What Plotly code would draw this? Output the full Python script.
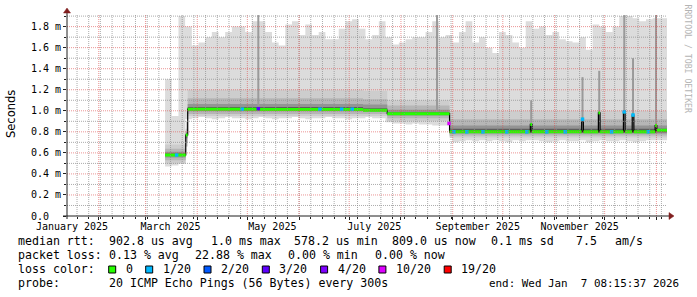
import pandas as pd
import plotly.graph_objects as go

# ---------------- data ----------------
x_start = "2025-01-13 00:00:00"
x_end = "2026-01-07 08:15:37"

# smoke envelope, 4-day buckets starting at bucket_start (values in ms)
bucket_start = "2025-03-12 18:00:00"
bucket_step = "4D"
smoke_max = [1.30, 0.95, 1.90, 1.80, 1.62, 1.65, 1.70, 1.75, 1.70, 1.75,
             1.80, 1.80, 1.75, 1.85, 1.85, 1.75, 1.65, 1.62, 1.82, 1.85,
             1.72, 1.82, 1.72, 1.75, 1.68, 1.68, 1.78, 1.85, 1.87, 1.78,
             1.68, 1.72, 1.85, 1.70, 1.63, 1.65, 1.68, 1.70, 1.70, 1.75,
             1.85, 1.70, 1.72, 1.65, 1.75, 1.85, 1.65, 1.70, 1.60, 1.55,
             1.75, 1.72, 1.65, 1.60, 1.85, 1.78, 1.80, 1.72, 1.75, 1.68,
             1.66, 1.65, 1.70, 1.58, 1.82, 1.80, 1.75, 1.80, 1.90, 1.90,
             1.88, 1.85, 1.87, 1.88, 1.88]
smoke_min = [0.47, 0.48, 0.50, 0.92, 0.93, 0.94, 0.93, 0.92, 0.93, 0.94,
             0.93, 0.93, 0.92, 0.93, 0.94, 0.93, 0.92, 0.93, 0.93, 0.94,
             0.93, 0.92, 0.93, 0.93, 0.94, 0.93, 0.93, 0.92, 0.93, 0.93,
             0.94, 0.93, 0.93, 0.89, 0.88, 0.88, 0.87, 0.88, 0.87, 0.87,
             0.86, 0.86, 0.86, 0.70, 0.71, 0.72, 0.71, 0.72, 0.71, 0.72,
             0.71, 0.70, 0.72, 0.71, 0.72, 0.72, 0.71, 0.70, 0.71, 0.72,
             0.71, 0.71, 0.72, 0.70, 0.71, 0.72, 0.71, 0.71, 0.72, 0.71,
             0.70, 0.71, 0.72, 0.72, 0.72]

# inner smoke bands (regime steps)
band_dates = ["2025-03-12 18:00", "2025-03-25 03:00", "2025-03-26 07:00",
              "2025-07-09 07:00", "2025-07-23 19:00", "2025-08-30 03:00"]
band1_lo = [0.50, 0.66, 0.95, 0.95, 0.90, 0.745]
band1_hi = [0.68, 0.90, 1.20, 1.19, 1.10, 1.00]
band2_lo = [0.53, 0.70, 0.97, 0.97, 0.93, 0.765]
band2_hi = [0.64, 0.83, 1.12, 1.11, 1.05, 0.92]
band3_lo = [0.555, 0.74, 0.995, 0.99, 0.955, 0.785]
band3_hi = [0.61, 0.80, 1.065, 1.06, 1.01, 0.86]
band4_lo = [0.57, 0.76, 1.005, 0.998, 0.963, 0.795]
band4_hi = [0.595, 0.785, 1.035, 1.025, 0.985, 0.83]

# short smoke spikes
spike_dates = ["2025-05-07 14:00", "2025-08-22 14:00", "2025-10-18 00:00",
               "2025-11-17 18:00", "2025-11-27 18:00", "2025-12-12 18:00",
               "2025-12-18 00:00", "2025-12-31 18:00"]
spike_low = [1.03, 0.99, 0.82, 0.82, 0.82, 0.82, 0.82, 0.83]
spike_high = [1.91, 1.91, 1.10, 1.32, 1.38, 1.91, 1.50, 1.91]

# median rtt (step segments, ms)
med_dates = ["2025-03-12 17:00", "2025-03-25 03:00", "2025-03-26 07:00",
             "2025-05-07 00:00", "2025-05-08 05:00", "2025-07-09 07:00",
             "2025-07-23 19:00", "2025-08-30 03:00", "2025-10-17 12:00",
             "2025-10-18 12:00", "2025-11-17 06:00", "2025-11-18 06:00",
             "2025-11-27 06:00", "2025-11-28 06:00", "2025-12-12 06:00",
             "2025-12-13 06:00", "2025-12-17 12:00", "2025-12-18 12:00",
             "2025-12-31 06:00", "2026-01-01 06:00"]
med_vals = [0.58, 0.77, 1.015, 1.02, 1.012, 1.005, 0.973, 0.80, 0.87, 0.80,
            0.92, 0.80, 0.98, 0.80, 0.99, 0.80, 0.96, 0.80, 0.86, 0.815]

# loss events on the median (pings lost out of 20)
loss_dates = ["2025-03-19 16:00", "2025-04-28 00:00", "2025-05-07 14:00",
              "2025-06-13 12:00", "2025-06-26 12:00", "2025-07-02 20:00",
              "2025-08-29 20:00", "2025-09-01 18:00", "2025-09-09 10:00",
              "2025-09-19 02:00", "2025-10-03 08:00", "2025-10-15 08:00",
              "2025-10-27 08:00", "2025-11-07 08:00", "2025-11-17 18:00",
              "2025-12-05 04:00", "2025-12-12 18:00", "2025-12-18 00:00",
              "2025-12-27 04:00"]
loss_vals = [0.58, 1.015, 1.02, 1.015, 1.015, 1.015, 0.88, 0.80, 0.80, 0.80,
             0.80, 0.80, 0.80, 0.80, 0.92, 0.80, 0.99, 0.96, 0.80]
loss_counts = [1, 1, 3, 1, 1, 1, 10, 1, 1, 1, 1, 1, 1, 1, 1, 1, 1, 1, 1]

loss_labels = ["0", "1/20", "2/20", "3/20", "4/20", "10/20", "19/20"]
loss_levels = [0, 1, 2, 3, 4, 10, 19]
loss_colors = ["#26ff00", "#00b8ff", "#0059ff", "#5e00ff", "#7e00ff", "#dd00ff", "#ff0000"]

y_tick_vals = [0.0, 0.2, 0.4, 0.6, 0.8, 1.0, 1.2, 1.4, 1.6, 1.8]
y_tick_text = ["0.0\u00a0\u00a0", "0.2 m", "0.4 m", "0.6 m", "0.8 m", "1.0 m", "1.2 m", "1.4 m", "1.6 m", "1.8 m"]
x_label_dates = ["2025-01-16", "2025-03-16", "2025-05-16", "2025-07-16", "2025-09-16", "2025-11-16"]
x_label_text = ["January 2025", "March 2025", "May 2025", "July 2025", "September 2025", "November 2025"]

legend_line1 = ["median rtt:", "902.8 us avg", "1.0 ms max", "578.2 us min", "809.0 us now", "0.1 ms sd", "7.5", "am/s"]
legend_line2 = ["packet loss:", "0.13 % avg", "22.88 % max", "0.00 % min", "0.00 % now"]
legend_line4 = ["probe:", "20 ICMP Echo Pings (56 Bytes) every 300s"]
end_text = "end: Wed Jan\u00a0\u00a07 08:15:37 2026"

# ---------------- geometry ----------------
W, H = 697, 297
ML, MR, MT, MB = 67, 30, 14, 81
PW = W - ML - MR
PH = H - MT - MB


def px(x):
    return (x - ML) / PW


def py(y):
    return (H - MB - y) / PH


MONO = "DejaVu Sans Mono"
fig = go.Figure()

# ---------------- smoke ----------------
edges = list(pd.date_range(bucket_start, periods=len(smoke_max), freq=bucket_step)) + [pd.Timestamp(x_end)]


def add_band(xs, lo, hi, color):
    fig.add_trace(go.Scatter(x=xs, y=list(lo) + [lo[-1]], mode="lines",
                             line=dict(width=0, shape="hv"), hoverinfo="skip", showlegend=False))
    fig.add_trace(go.Scatter(x=xs, y=list(hi) + [hi[-1]], mode="lines",
                             line=dict(width=0, shape="hv"), fill="tonexty", fillcolor=color,
                             hoverinfo="skip", showlegend=False))


add_band(edges, smoke_min, smoke_max, "#dcdcdc")
bx = [pd.Timestamp(d) for d in band_dates] + [pd.Timestamp(x_end)]
add_band(bx, band1_lo, band1_hi, "#cdcdcd")
add_band(bx, band2_lo, band2_hi, "#b6b6b6")
add_band(bx, band3_lo, band3_hi, "#949494")
add_band(bx, band4_lo, band4_hi, "#5e5e5e")

sx, sy = [], []
for d, lo, hi in zip(spike_dates, spike_low, spike_high):
    sx += [d, d, None]
    sy += [lo, hi, None]
fig.add_trace(go.Scatter(x=sx, y=sy, mode="lines", line=dict(color="#9a9a9a", width=2),
                         hoverinfo="skip", showlegend=False))

# ---------------- median ----------------
mx = [pd.Timestamp(d) for d in med_dates] + [pd.Timestamp(x_end)]
fig.add_trace(go.Scatter(x=mx, y=med_vals + [med_vals[-1]], mode="lines",
                         line=dict(color="black", width=1.2, shape="hv"), hoverinfo="skip", showlegend=False))
gx, gy = [], []
for i, v in enumerate(med_vals):
    gx += [mx[i], mx[i + 1], None]
    gy += [v, v, None]
fig.add_trace(go.Scatter(x=gx, y=gy, mode="lines", line=dict(color=loss_colors[0], width=3),
                         hoverinfo="skip", showlegend=False))
cmap = dict(zip(loss_levels, loss_colors))
fig.add_trace(go.Scatter(x=loss_dates, y=loss_vals, mode="markers", xaxis="x2",
                         marker=dict(symbol="square", size=3.5, color=[cmap[c] for c in loss_counts],
                                     line=dict(width=0)),
                         hoverinfo="skip", showlegend=False))

# ---------------- grid (drawn above the smoke, like rrdtool) ----------------
shapes = []
grid_minor = "rgba(143,143,143,0.75)"
grid_major = "rgba(222,79,79,0.6)"
for d in pd.date_range("2025-01-19", x_end, freq="7D"):
    shapes.append(dict(type="line", xref="x", yref="paper", x0=d, x1=d, y0=0, y1=1, layer="above",
                       line=dict(color=grid_minor, width=1, dash="1px,1px")))
for d in pd.date_range("2025-02-01", "2026-01-01", freq="MS"):
    shapes.append(dict(type="line", xref="x", yref="paper", x0=d, x1=d, y0=0, y1=1, layer="above",
                       line=dict(color=grid_major, width=1, dash="1px,1px")))
for k in range(1, 20):
    v = k / 10
    col = grid_major if k % 2 == 0 else grid_minor
    shapes.append(dict(type="line", xref="paper", yref="y", x0=0, x1=1, y0=v, y1=v, layer="above",
                       line=dict(color=col, width=1, dash="1px,1px")))

# axis lines + arrows
axis_col = "#1f1f1f"
arrow_col = "#801f1f"
shapes.append(dict(type="line", xref="paper", yref="paper", x0=px(63), x1=px(670), y0=0, y1=0,
                   layer="above", line=dict(color=axis_col, width=1)))
shapes.append(dict(type="line", xref="paper", yref="paper", x0=0, x1=0, y0=py(219), y1=py(10),
                   layer="above", line=dict(color=axis_col, width=1)))
shapes.append(dict(type="path", xref="paper", yref="paper", layer="above",
                   path=f"M {px(669)},{py(212.5)} L {px(674)},{py(216)} L {px(669)},{py(219.5)} Z",
                   fillcolor=arrow_col, line=dict(color=arrow_col, width=0.5)))
shapes.append(dict(type="path", xref="paper", yref="paper", layer="above",
                   path=f"M {px(63.5)},{py(13)} L {px(67)},{py(8)} L {px(70.5)},{py(13)} Z",
                   fillcolor=arrow_col, line=dict(color=arrow_col, width=0.5)))

# ---------------- legend text ----------------
ann = []


def txt(x, y, s, anchor="left", size=11.6, color="black", family=MONO, angle=0):
    ann.append(dict(x=px(x), y=py(y), xref="paper", yref="paper", text=s, showarrow=False,
                    xanchor=anchor, yanchor="middle", textangle=angle,
                    font=dict(family=family, size=size, color=color)))


for s, x in zip(legend_line1, [16, 107, 209, 292, 390, 489, 574, 613]):
    txt(x, 241.3, s)
for s, x in zip(legend_line2, [16, 107, 193, 286, 373]):
    txt(x, 255.3, s)
txt(16, 269.3, "loss color:")
sq_x = [108.7, 145.7, 204, 262.3, 320.6, 378.9, 444.2]
for lab, col, x in zip(loss_labels, loss_colors, sq_x):
    shapes.append(dict(type="rect", xref="paper", yref="paper", x0=px(x), x1=px(x + 7),
                       y0=py(273), y1=py(266), fillcolor=col, line=dict(color="black", width=1)))
    txt(x + 15, 269.3, lab)
for s, x in zip(legend_line4, [16, 107]):
    txt(x, 283.3, s)
txt(681, 283.3, end_text, anchor="right", size=10.9)

txt(11, 114, "Seconds", anchor="center", size=11.5, family="DejaVu Sans", angle=-90)
txt(687.5, 59, "RRDTOOL / TOBI OETIKER", anchor="center", size=8.2, color="#b4b4b4", angle=90)

tickfont = dict(family=MONO, size=10, color="black")
fig.update_layout(
    width=W, height=H, margin=dict(l=ML, r=MR, t=MT, b=MB, pad=0),
    paper_bgcolor="white", plot_bgcolor="white", showlegend=False,
    xaxis=dict(type="date", range=[x_start, x_end], tickmode="array",
               tickvals=list(pd.date_range("2025-02-01", "2026-01-01", freq="MS")),
               showticklabels=False, ticks="outside", ticklen=3, tickcolor=axis_col,
               showgrid=False, zeroline=False, showline=False,
               minor=dict(ticks="outside", ticklen=2, tickcolor=axis_col, dtick=7 * 86400000,
                          tick0="2025-01-05", showgrid=False)),
    xaxis2=dict(type="date", overlaying="x", anchor="y", side="bottom", range=[x_start, x_end],
                tickmode="array", tickvals=x_label_dates, ticktext=x_label_text, ticks="",
                ticklabelstandoff=3,
                showgrid=False, zeroline=False, showline=False, tickfont=tickfont),
    yaxis=dict(range=[0, 1.92], tickmode="array", tickvals=y_tick_vals, ticktext=y_tick_text,
               ticks="outside", ticklen=3, tickcolor=axis_col, showgrid=False, zeroline=False,
               showline=False, tickfont=tickfont,
               minor=dict(ticks="outside", ticklen=2, tickcolor=axis_col, dtick=0.1, tick0=0,
                          showgrid=False)),
    shapes=shapes, annotations=ann,
)

fig.write_html("out.html")
